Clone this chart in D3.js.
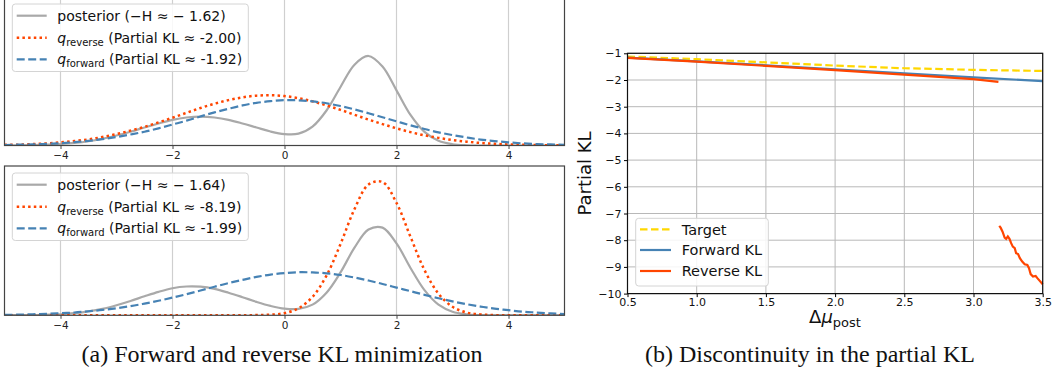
<!DOCTYPE html>
<html><head><meta charset="utf-8">
<script src="https://cdn.jsdelivr.net/npm/d3@7"></script>
<style>body{margin:0;background:#fff}svg{display:block}</style>
</head><body>
<svg id="c" width="1055" height="381"></svg>
<script>
// ---------- data: left panels (densities sampled on xGrid) ----------
const xGrid = [-5,-4.75,-4.5,-4.25,-4,-3.75,-3.5,-3.25,-3,-2.75,-2.5,-2.25,-2,-1.75,-1.5,-1.25,-1,-0.75,-0.5,-0.25,0,0.25,0.5,0.75,1,1.25,1.5,1.75,2,2.25,2.5,2.75,3,3.25,3.5,3.75,4,4.25,4.5,4.75,5];
const posteriorTop = [0.000,0.001,0.002,0.004,0.007,0.012,0.020,0.032,0.047,0.065,0.085,0.104,0.121,0.132,0.136,0.132,0.121,0.104,0.085,0.066,0.054,0.056,0.089,0.165,0.276,0.381,0.422,0.372,0.260,0.144,0.064,0.022,0.006,0.001,0.000,0.000,0.000,0.000,0.000,0.000,0.000];
const qReverseTop = [0.003,0.004,0.007,0.010,0.015,0.021,0.029,0.040,0.054,0.070,0.088,0.109,0.131,0.154,0.177,0.197,0.214,0.227,0.235,0.237,0.233,0.223,0.208,0.189,0.168,0.145,0.122,0.101,0.081,0.063,0.048,0.036,0.026,0.018,0.012,0.008,0.005,0.004,0.002,0.001,0.001];
const qForwardTop = [0.002,0.004,0.005,0.008,0.011,0.016,0.022,0.030,0.040,0.052,0.065,0.081,0.099,0.117,0.137,0.156,0.173,0.189,0.201,0.209,0.214,0.213,0.208,0.199,0.186,0.170,0.152,0.133,0.114,0.095,0.078,0.062,0.049,0.038,0.028,0.021,0.015,0.010,0.007,0.005,0.003];
const posteriorBot = [0.000,0.001,0.001,0.003,0.005,0.010,0.018,0.030,0.047,0.067,0.089,0.110,0.127,0.135,0.134,0.124,0.106,0.085,0.063,0.044,0.031,0.030,0.050,0.106,0.201,0.317,0.402,0.411,0.337,0.222,0.118,0.050,0.017,0.005,0.001,0.000,0.000,0.000,0.000,0.000,0.000];
const qReverseBot = [0,0,0,0,0,0,0,0,0,0,0,0,0,0,0,0,0,0.000,0.001,0.003,0.010,0.033,0.086,0.186,0.334,0.498,0.613,0.625,0.527,0.368,0.212,0.101,0.040,0.013,0.004,0.001,0.000,0,0,0,0];
const qForwardBot = [0.002,0.003,0.005,0.007,0.010,0.013,0.019,0.025,0.033,0.043,0.055,0.068,0.083,0.099,0.116,0.134,0.151,0.166,0.180,0.191,0.198,0.202,0.201,0.197,0.189,0.177,0.163,0.147,0.130,0.113,0.096,0.080,0.065,0.052,0.041,0.031,0.024,0.017,0.013,0.009,0.006];
const leftTicks = [-4,-2,0,2,4];
const negEntropy = ["−1.62","−1.64"];
const klReverseLabel = ["-2.00","-8.19"];
const klForwardLabel = ["-1.92","-1.99"];

// ---------- data: right panel ----------
const deltaMu = [0.5,1.0,1.5,2.0,2.5,3.0,3.5];
const targetKL = [-1.12,-1.22,-1.34,-1.46,-1.56,-1.62,-1.66];
const forwardKL = [-1.16,-1.30,-1.45,-1.60,-1.75,-1.90,-2.04];
const reverseMuA = [0.5,1.0,1.5,2.0,2.5,3.0,3.18];
const reverseKLA = [-1.17,-1.31,-1.47,-1.63,-1.80,-1.97,-2.07];
const reverseMuB = [3.186,3.196,3.21,3.225,3.236,3.248,3.26,3.272,3.284,3.298,3.308,3.322,3.335,3.352,3.37,3.389,3.401,3.413,3.43,3.449,3.463,3.5];
const reverseKLB = [-7.46,-7.53,-7.68,-7.90,-7.95,-7.86,-7.95,-8.11,-8.24,-8.30,-8.49,-8.52,-8.67,-8.80,-8.90,-8.93,-9.05,-9.27,-9.36,-9.34,-9.43,-9.65];
const muTicks = [0.5,1.0,1.5,2.0,2.5,3.0,3.5];
const klTicks = [-1,-2,-3,-4,-5,-6,-7,-8,-9,-10];
const legendRight = ["Target","Forward KL","Reverse KL"];
const captions = ["(a) Forward and reverse KL minimization","(b) Discontinuity in the partial KL"];

const FONT = "DejaVu Sans, sans-serif";
const C_POST = "#a9a9a9", C_REV = "#ff4500", C_FWD = "#4682b4", C_TGT = "#ffd700";
const svg = d3.select("#c");
const minus = v => (v < 0 ? "−" + Math.abs(v) : String(v));

// ---------- left panels ----------
const x = d3.scaleLinear().domain([-5,5]).range([4.5,564.5]);
const panels = [
  {top:-3, bottom:145.5, post:posteriorTop, rev:qReverseTop, fwd:qForwardTop, k:0},
  {top:166, bottom:315.3, post:posteriorBot, rev:qReverseBot, fwd:qForwardBot, k:1}
];
panels.forEach((p,pi) => {
  const y = d3.scaleLinear().domain([0,0.7]).range([p.bottom,p.top]);
  const g = svg.append("g");
  g.append("clipPath").attr("id","clip"+pi).append("rect")
    .attr("x",x(-5)).attr("y",p.top).attr("width",x(5)-x(-5)).attr("height",p.bottom-p.top);
  g.selectAll("line.grid").data(leftTicks).join("line")
    .attr("x1",d=>x(d)).attr("x2",d=>x(d)).attr("y1",p.top).attr("y2",p.bottom)
    .attr("stroke","#cfcfcf").attr("stroke-width",1.2);
  const line = d3.line().x((d,i)=>x(xGrid[i])).y(d=>y(d)).curve(d3.curveCatmullRom);
  const cg = g.append("g").attr("clip-path",`url(#clip${pi})`);
  cg.append("path").attr("d",line(p.post)).attr("fill","none").attr("stroke",C_POST).attr("stroke-width",2.2);
  cg.append("path").attr("d",line(p.rev)).attr("fill","none").attr("stroke",C_REV).attr("stroke-width",2.5)
    .attr("stroke-dasharray","2.5,3.2");
  cg.append("path").attr("d",line(p.fwd)).attr("fill","none").attr("stroke",C_FWD).attr("stroke-width",2.2)
    .attr("stroke-dasharray","8,3.5");
  g.append("rect").attr("x",x(-5)).attr("y",p.top).attr("width",x(5)-x(-5)).attr("height",p.bottom-p.top)
    .attr("fill","none").attr("stroke","#444").attr("stroke-width",1.2);
  const ax = g.append("g").attr("transform",`translate(0,${p.bottom})`)
    .call(d3.axisBottom(x).tickValues(leftTicks).tickFormat(minus).tickSize(3.5).tickPadding(2.5));
  ax.select(".domain").remove();
  ax.selectAll("line").attr("stroke","#444");
  ax.selectAll("text").attr("font-family",FONT).attr("font-size",10.5).attr("fill","#222");
  // legend
  const lx = 12.3, ly = p.top + 7;
  const lg = g.append("g");
  lg.append("rect").attr("x",lx).attr("y",ly).attr("width",236).attr("height",67.5).attr("rx",3)
    .attr("fill","#fff").attr("fill-opacity",0.85).attr("stroke","#d4d4d4").attr("stroke-width",1);
  const rows = [11.7, 33.7, 55.3];
  const styles = [
    {c:C_POST, w:2.2, dash:null},
    {c:C_REV, w:2.5, dash:"2.5,3.2"},
    {c:C_FWD, w:2.2, dash:"8,3.5"}
  ];
  rows.forEach((r,ri)=>{
    const s = styles[ri];
    const l = lg.append("line").attr("x1",16.7).attr("x2",46.7).attr("y1",ly+r).attr("y2",ly+r)
      .attr("stroke",s.c).attr("stroke-width",s.w);
    if (s.dash) l.attr("stroke-dasharray",s.dash);
  });
  const t0 = lg.append("text").attr("x",57.3).attr("y",ly+rows[0]).attr("dy","0.36em")
    .attr("font-family",FONT).attr("font-size",14).attr("fill","#111");
  t0.text(`posterior (−H ≈ ${negEntropy[p.k].replace("−","− ")})`);
  [[rows[1],"reverse",klReverseLabel[p.k]],[rows[2],"forward",klForwardLabel[p.k]]].forEach(([r,sub,val])=>{
    const t = lg.append("text").attr("x",57.3).attr("y",ly+r).attr("dy","0.36em")
      .attr("font-family",FONT).attr("font-size",14).attr("fill","#111");
    t.append("tspan").attr("font-style","italic").text("q");
    t.append("tspan").attr("font-size",10).attr("dy",3).text(sub);
    t.append("tspan").attr("dy",-3).text(` (Partial KL ≈ ${val})`);
  });
});

// ---------- right panel ----------
const xr = d3.scaleLinear().domain([0.5,3.5]).range([627.5,1042.7]);
const yr = d3.scaleLinear().domain([-10,-1]).range([293.6,53.3]);
const rg = svg.append("g");
rg.selectAll("line.gx").data(muTicks).join("line")
  .attr("x1",d=>xr(d)).attr("x2",d=>xr(d)).attr("y1",yr(-1)).attr("y2",yr(-10))
  .attr("stroke","#b8b8b8").attr("stroke-width",1);
rg.selectAll("line.gy").data(klTicks).join("line")
  .attr("x1",xr(0.5)).attr("x2",xr(3.5)).attr("y1",d=>yr(d)).attr("y2",d=>yr(d))
  .attr("stroke","#b8b8b8").attr("stroke-width",1);
const rline = d3.line().x(d=>xr(d[0])).y(d=>yr(d[1]));
rg.append("path").attr("d",rline(d3.zip(deltaMu,targetKL))).attr("fill","none")
  .attr("stroke",C_TGT).attr("stroke-width",2.2).attr("stroke-dasharray","7.5,3.5");
rg.append("path").attr("d",rline(d3.zip(deltaMu,forwardKL))).attr("fill","none")
  .attr("stroke",C_FWD).attr("stroke-width",2.2);
rg.append("path").attr("d",rline(d3.zip(reverseMuA,reverseKLA))).attr("fill","none")
  .attr("stroke",C_REV).attr("stroke-width",2.2);
rg.append("path").attr("d",rline(d3.zip(reverseMuB,reverseKLB))).attr("fill","none")
  .attr("stroke",C_REV).attr("stroke-width",2.2);
rg.append("rect").attr("x",xr(0.5)).attr("y",yr(-1)).attr("width",xr(3.5)-xr(0.5)).attr("height",yr(-10)-yr(-1))
  .attr("fill","none").attr("stroke","#111").attr("stroke-width",1.2);
const axL = rg.append("g").attr("transform",`translate(${xr(0.5)},0)`)
  .call(d3.axisLeft(yr).tickValues(klTicks).tickFormat(minus).tickSize(3.5).tickPadding(2.5));
axL.select(".domain").remove();
axL.selectAll("text").attr("font-family",FONT).attr("font-size",11).attr("fill","#111");
const axB = rg.append("g").attr("transform",`translate(0,${yr(-10)})`)
  .call(d3.axisBottom(xr).tickValues(muTicks).tickFormat(d3.format(".1f")).tickSize(3.5).tickPadding(1.5));
axB.select(".domain").remove();
axB.selectAll("text").attr("font-family",FONT).attr("font-size",11).attr("fill","#111");
// legend
const rlx = 635.7, rly = 218.3;
rg.append("rect").attr("x",rlx).attr("y",rly).attr("width",132.6).attr("height",67.7).attr("rx",3)
  .attr("fill","#fff").attr("fill-opacity",0.85).attr("stroke","#d4d4d4");
const rStyles = [{c:C_TGT,dash:"7.5,3.5"},{c:C_FWD,dash:null},{c:C_REV,dash:null}];
[229.3,250,271].forEach((yy,i)=>{
  const l = rg.append("line").attr("x1",640).attr("x2",671).attr("y1",yy).attr("y2",yy)
    .attr("stroke",rStyles[i].c).attr("stroke-width",2.2);
  if (rStyles[i].dash) l.attr("stroke-dasharray",rStyles[i].dash);
  rg.append("text").attr("x",681.7).attr("y",yy).attr("dy","0.36em").attr("font-family",FONT)
    .attr("font-size",14.5).attr("fill","#111").text(legendRight[i]);
});
// axis labels
rg.append("text").attr("transform","translate(585,173.5) rotate(-90)").attr("text-anchor","middle")
  .attr("dy","0.36em").attr("font-family",FONT).attr("font-size",18).attr("fill","#111").text("Partial KL");
const xl = rg.append("text").attr("x",835).attr("y",323).attr("text-anchor","middle")
  .attr("font-family",FONT).attr("font-size",18).attr("fill","#111");
xl.append("tspan").text("Δ");
xl.append("tspan").attr("font-style","italic").text("μ");
xl.append("tspan").attr("font-size",13).attr("dy",4).text("post");

// ---------- captions ----------
svg.append("text").attr("x",282).attr("y",362).attr("text-anchor","middle")
  .attr("font-family","Liberation Serif, Times New Roman, serif").attr("font-size",24).attr("fill","#111")
  .text(captions[0]);
svg.append("text").attr("x",810).attr("y",362).attr("text-anchor","middle")
  .attr("font-family","Liberation Serif, Times New Roman, serif").attr("font-size",24).attr("fill","#111")
  .text(captions[1]);
</script>
</body></html>
